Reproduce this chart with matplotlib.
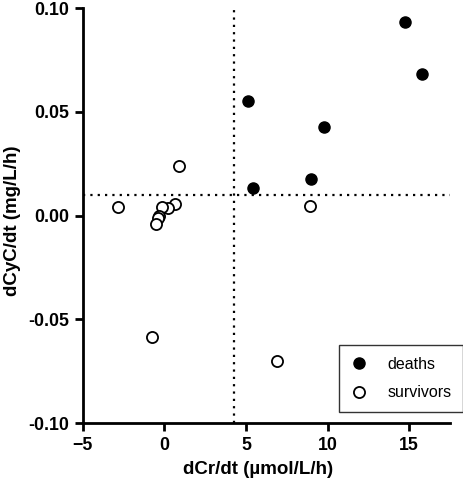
import numpy as np
import matplotlib
matplotlib.use("Agg")
import matplotlib.pyplot as plt

plt.rcParams['font.family'] = ['Liberation Sans', 'DejaVu Sans']

# deaths
deaths_x = [14.75, 15.77, 5.12, 9.76, 8.97, 5.45]
deaths_y = [0.0931, 0.0680, 0.0554, 0.0428, 0.0178, 0.0133]

# survivors
surv_x = [-2.82, 0.90, 0.66, 0.25, -0.14, -0.30, -0.40, -0.48, -0.75, 6.93, 8.90]
surv_y = [0.0042, 0.0237, 0.0058, 0.0037, 0.0042, 0.0000, -0.0012, -0.0042, -0.0586, -0.0700, 0.0047]

# cut-off lines
cut_x = 4.26
cut_y = 0.01

fig = plt.figure(figsize=(4.63, 4.83), dpi=100)
ax = fig.add_axes([0.1786, 0.1236, 0.7934, 0.8598])

ax.plot(deaths_x, deaths_y, 'o', color='black', markersize=8, label='deaths', zorder=3)
ax.plot(surv_x, surv_y, 'o', markerfacecolor='white', markeredgecolor='black',
        markeredgewidth=1.3, markersize=8, label='survivors', zorder=3)

ax.axvline(cut_x, color='black', linewidth=1.6, linestyle=(0, (1, 2.3)), zorder=1)
ax.axhline(cut_y, color='black', linewidth=1.6, linestyle=(0, (1, 2.3)), zorder=1)

ax.set_xlim(-5, 17.5)
ax.set_ylim(-0.1, 0.1)
ax.set_xticks([-5, 0, 5, 10, 15])
ax.set_yticks([-0.10, -0.05, 0.00, 0.05, 0.10])
ax.set_yticklabels(['-0.10', '-0.05', '0.00', '0.05', '0.10'])

for s in ['top', 'right']:
    ax.spines[s].set_visible(False)
for s in ['left', 'bottom']:
    ax.spines[s].set_linewidth(2)
ax.tick_params(direction='out', length=6, width=2, labelsize=12.8, pad=4)
for lab in ax.get_xticklabels() + ax.get_yticklabels():
    lab.set_fontweight('bold')

ax.set_xlabel('dCr/dt (µmol/L/h)', fontsize=13.5, fontweight='bold')
ax.set_ylabel('dCyC/dt (mg/L/h)', fontsize=13.5, fontweight='bold')
# labels are not quite centred on the axes in the original
ax.xaxis.set_label_coords(0.477, -0.09)
ax.yaxis.set_label_coords(-0.168, 0.487)

leg = ax.legend(loc='lower right', bbox_to_anchor=(1.0, 0.147), bbox_transform=fig.transFigure,
                borderaxespad=0, fontsize=11.5, frameon=True, fancybox=False, edgecolor='black',
                handlelength=1.0, handletextpad=1.3, borderpad=0.72, labelspacing=0.85)
leg.get_frame().set_linewidth(1)

fig.savefig('out.png', dpi=100)
